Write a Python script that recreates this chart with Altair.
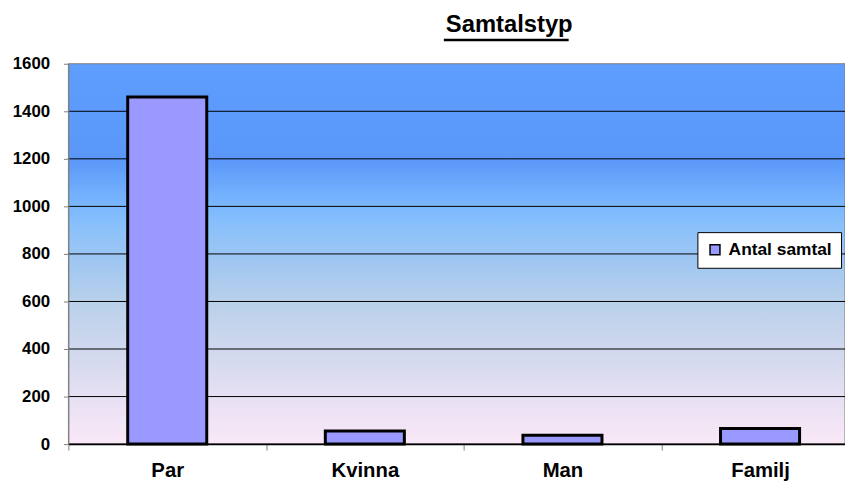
import altair as alt
import pandas as pd

# ---- data ----
categories = ["Par", "Kvinna", "Man", "Familj"]
values = [1460, 55, 37, 66]
series_name = "Antal samtal"
y_ticks = [0, 200, 400, 600, 800, 1000, 1200, 1400, 1600]
title_text = "Samtalstyp"

df = pd.DataFrame({
    "Samtalstyp": categories,
    "Antal": values,
    "Serie": [series_name] * len(categories),
})
grid_df = pd.DataFrame({"Antal": y_ticks})

FONT = "Liberation Sans"

grad = alt.LinearGradient(
    gradient="linear", x1=0, y1=0, x2=0, y2=1,
    stops=[
        alt.GradientStop(color="#5E9EFF", offset=0),
        alt.GradientStop(color="#5A97F9", offset=0.25),
        alt.GradientStop(color="#7AB7FE", offset=0.37),
        alt.GradientStop(color="#88C0FC", offset=0.42),
        alt.GradientStop(color="#9BC5F3", offset=0.5),
        alt.GradientStop(color="#B8D0EA", offset=0.625),
        alt.GradientStop(color="#D0D8EE", offset=0.75),
        alt.GradientStop(color="#E6E0F3", offset=0.875),
        alt.GradientStop(color="#FAE8F7", offset=1),
    ],
)

y_scale = alt.Scale(domain=[0, 1600], nice=False)
y_axis = alt.Axis(
    title=None, values=y_ticks, format="d", labelFont=FONT, labelFontSize=17,
    labelFontWeight="bold", labelColor="black", labelPadding=14,
    tickSize=5, tickColor="#808080", domainColor="#808080",
    grid=False, zindex=1,
)

background = alt.Chart(alt.Data(values=[{}])).mark_rect(
    fill=grad, stroke="#808080", strokeWidth=1
).encode(
    x=alt.value(0), x2=alt.value("width"), y=alt.value(0), y2=alt.value("height")
)

grid = alt.Chart(grid_df).transform_filter("datum.Antal < 1600").mark_rule(
    color="black", strokeWidth=1
).encode(
    y=alt.Y("Antal:Q", scale=y_scale, axis=y_axis)
)

bars = alt.Chart(df).mark_bar(stroke="black", strokeWidth=3).encode(
    x=alt.X(
        "Samtalstyp:N", sort=categories,
        scale=alt.Scale(range=[0, 798], paddingInner=0.6, paddingOuter=0.3),
        axis=alt.Axis(
            title=None, labelAngle=0, labelFont=FONT, labelFontSize=20.5,
            labelFontWeight="bold", labelColor="black", labelPadding=11,
            tickSize=6, tickColor="#808080", bandPosition=0.5,
            tickOffset=-99.75, labelOffset=99.75,
            domainColor="black", domainWidth=1.5, zindex=1,
        ),
    ),
    y=alt.Y("Antal:Q", scale=y_scale, axis=y_axis),
    color=alt.Color(
        "Serie:N", scale=alt.Scale(range=["#9999FF"]),
        legend=alt.Legend(
            title=None, orient="none", legendX=635, legendY=170,
            symbolType="square", symbolSize=100, symbolStrokeColor="black",
            symbolStrokeWidth=1.5, labelFont=FONT, labelFontSize=17.5,
            labelFontWeight="bold", labelColor="black", labelOffset=5,
            fillColor="white", strokeColor="black", padding=9,
        ),
    ),
)

underline = alt.Chart(alt.Data(values=[{}])).mark_rule(color="black", strokeWidth=2.5).encode(
    x=alt.value(379), x2=alt.value(505), y=alt.value(-24)
)

chart = alt.layer(background, grid, bars, underline).properties(
    width=784, height=384,
    title=alt.TitleParams(
        title_text, anchor="start", frame="group", dx=381, font=FONT, fontSize=24,
        fontWeight="bold", color="black", baseline="alphabetic", offset=-17,
    ),
    autosize=alt.AutoSizeParams(type="none"),
    padding={"left": 61, "top": 54, "right": 0, "bottom": 38},
).configure_view(stroke=None)

chart.save("out.html", embed_options={"renderer": "svg", "actions": False})
